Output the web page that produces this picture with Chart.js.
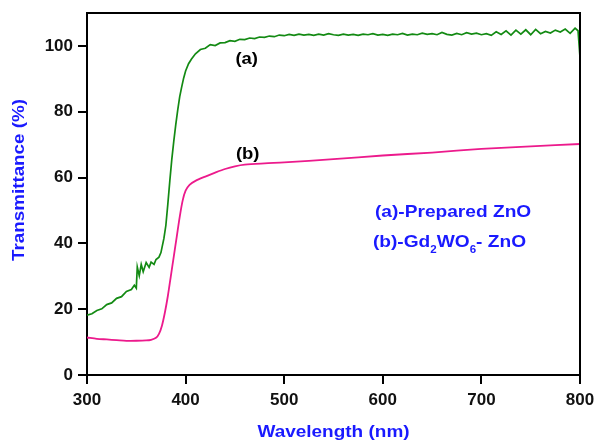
<!DOCTYPE html>
<html>
<head>
<meta charset="utf-8">
<title>Transmittance spectra</title>
<script src="https://cdn.jsdelivr.net/npm/chart.js@4.4.1/dist/chart.umd.min.js"></script>
<style>
  html, body { margin: 0; padding: 0; background: #fff; }
  #wrap { width: 595px; height: 441px; }
</style>
</head>
<body>
<div id="wrap"><canvas id="specChart" width="595" height="441"></canvas></div>
<script>
// (a) prepared ZnO - wavelength (nm) and transmittance (%)
const waveA = [300,305,310,315,320,325,330,335,340,345,348,350,351,353,355,357,360,363,365,368,
  370,373,375,378,380,382,384,386,388,390,392,394,396,398,400,403,406,410,415,420,
  425,430,435,440,445,450,455,460,465,470,475,480,485,490,495,500,505,510,515,520,
  525,530,535,540,545,550,555,560,565,570,575,580,585,590,595,600,605,610,615,620,
  625,630,635,640,645,650,655,660,665,670,675,680,685,690,695,700,705,710,715,720,
  725,730,735,740,745,750,755,760,765,770,775,780,785,790,795,798,800];
const transA = [18.2,18.6,19.6,20.1,21.4,21.9,23.3,23.8,25.4,26.0,27.3,26.4,32.8,30.2,33.6,31.4,34.2,32.7,34.3,33.6,
  35.1,35.8,37.2,41.5,45.5,52.0,59.0,65.5,71.0,76.0,80.5,84.5,87.5,90.2,92.4,94.6,96.0,97.6,98.9,99.3,
  100.4,100.1,100.9,101.0,101.6,101.4,102.0,101.9,102.4,102.2,102.7,102.6,103.0,102.8,103.3,103.1,103.5,103.2,103.6,103.3,
  103.5,103.2,103.6,103.3,103.7,103.4,103.2,103.6,103.3,103.5,103.2,103.6,103.4,103.7,103.3,103.5,103.2,103.6,103.4,103.8,
  103.3,103.6,103.4,103.9,103.5,103.7,103.4,104.1,103.5,103.3,103.8,103.4,104.0,103.6,103.9,103.4,103.7,103.2,104.3,103.5,
  104.6,103.3,104.8,103.6,104.9,103.4,105.0,103.7,104.4,103.9,104.8,104.2,105.1,103.8,105.4,104.6,96.5];

// (b) Gd2WO6-ZnO
const waveB = [300,310,320,330,340,350,360,365,370,373,376,379,382,385,388,391,394,397,400,404,
  410,420,430,440,450,460,480,500,550,600,650,700,750,800];
const transB = [11.4,11.0,10.8,10.6,10.4,10.4,10.5,10.7,11.3,12.5,15.0,19.0,24.0,30.0,36.0,42.0,48.0,53.0,56.0,57.8,
  59.0,60.3,61.5,62.6,63.4,63.9,64.3,64.6,65.6,66.7,67.6,68.7,69.5,70.2];

const xTicks = [300, 400, 500, 600, 700, 800];
const yTicks = [0, 20, 40, 60, 80, 100];

const FONT = 'Arial, "Liberation Sans", sans-serif';
const BLUE = '#1a1aff';

// text is slightly wide in this figure, so stretch it horizontally
function wideText(ctx, txt, x, y, size, color, align, sx) {
  ctx.save();
  ctx.font = 'bold ' + size + 'px ' + FONT;
  ctx.fillStyle = color;
  ctx.textBaseline = 'middle';
  const w = ctx.measureText(txt).width * sx;
  let left = x;
  if (align === 'center') left = x - w / 2;
  ctx.translate(left, y);
  ctx.scale(sx, 1);
  ctx.textAlign = 'left';
  ctx.fillText(txt, 0, 0);
  ctx.restore();
  return w;
}

const decorations = {
  id: 'decorations',
  afterDraw(chart) {
    const ctx = chart.ctx;
    const a = chart.chartArea;
    const xs = chart.scales.x, ys = chart.scales.y;

    // top and right sides of the frame
    ctx.save();
    ctx.strokeStyle = '#000';
    ctx.lineWidth = 2;
    ctx.beginPath();
    ctx.moveTo(a.left, a.top);
    ctx.lineTo(a.right, a.top);
    ctx.lineTo(a.right, a.bottom);
    ctx.stroke();
    ctx.restore();

    // axis titles
    wideText(ctx, 'Wavelength (nm)', (a.left + a.right) / 2, 432, 16.5, BLUE, 'center', 1.15);
    ctx.save();
    ctx.translate(19, 180);
    ctx.rotate(-Math.PI / 2);
    wideText(ctx, 'Transmittance (%)', 0, 0, 16.5, BLUE, 'center', 1.14);
    ctx.restore();

    // curve labels
    wideText(ctx, '(a)', xs.getPixelForValue(462), ys.getPixelForValue(96), 16.5, '#000', 'center', 1.12);
    wideText(ctx, '(b)', xs.getPixelForValue(463), ys.getPixelForValue(67), 16.5, '#000', 'center', 1.12);

    // legend text
    const lx = xs.getPixelForValue(592);
    wideText(ctx, '(a)-Prepared ZnO', lx, ys.getPixelForValue(49.3), 16.5, BLUE, 'left', 1.16);
    const ly = ys.getPixelForValue(40.2);
    let cx = lx - 2;
    cx += wideText(ctx, '(b)-Gd', cx, ly, 16.5, BLUE, 'left', 1.16);
    cx += wideText(ctx, '2', cx, ly + 7, 10.5, BLUE, 'left', 1.1);
    cx += wideText(ctx, 'WO', cx, ly, 16.5, BLUE, 'left', 1.16);
    cx += wideText(ctx, '6', cx, ly + 7, 10.5, BLUE, 'left', 1.1);
    wideText(ctx, '- ZnO', cx, ly, 16.5, BLUE, 'left', 1.16);
  }
};

const ctx = document.getElementById('specChart').getContext('2d');
new Chart(ctx, {
  type: 'line',
  data: {
    datasets: [
      {
        label: '(a)-Prepared ZnO',
        data: waveA.map((w, i) => ({ x: w, y: transA[i] })),
        borderColor: '#138a13',
        borderWidth: 1.7,
        pointRadius: 0,
        tension: 0
      },
      {
        label: '(b)-Gd2WO6- ZnO',
        data: waveB.map((w, i) => ({ x: w, y: transB[i] })),
        borderColor: '#ec1a8c',
        borderWidth: 1.8,
        pointRadius: 0,
        tension: 0.3
      }
    ]
  },
  options: {
    responsive: false,
    animation: false,
    devicePixelRatio: 1,
    layout: { padding: { top: 13, right: 15, bottom: 0, left: 0 } },
    plugins: { legend: { display: false }, tooltip: { enabled: false } },
    scales: {
      x: {
        type: 'linear',
        min: 300,
        max: 800,
        afterBuildTicks: s => { s.ticks = xTicks.map(v => ({ value: v })); },
        afterFit: s => { s.height = 66; s.paddingLeft = 0; s.paddingRight = 0; },
        ticks: { color: '#111', font: { family: FONT, size: 17, weight: 'bold' }, padding: 6, maxRotation: 0 },
        grid: { drawOnChartArea: false, drawTicks: true, tickLength: 9, color: '#000', lineWidth: 2 },
        border: { color: '#000', width: 2 }
      },
      y: {
        min: 0,
        max: 110,
        afterBuildTicks: s => { s.ticks = yTicks.map(v => ({ value: v })); },
        afterFit: s => { s.width = 87; s.paddingTop = 0; s.paddingBottom = 0; },
        ticks: { color: '#111', font: { family: FONT, size: 17, weight: 'bold' }, padding: 5 },
        grid: { drawOnChartArea: false, drawTicks: true, tickLength: 9, color: '#000', lineWidth: 2 },
        border: { color: '#000', width: 2 }
      }
    }
  },
  plugins: [decorations]
});
</script>
</body>
</html>
